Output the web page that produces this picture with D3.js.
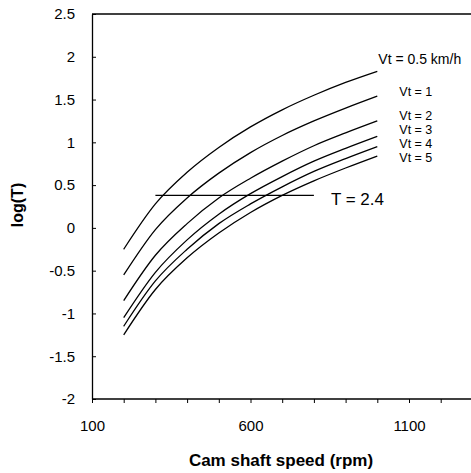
<!DOCTYPE html>
<html>
<head>
<meta charset="utf-8">
<script src="https://cdn.jsdelivr.net/npm/d3@7"></script>
<style>
    body { margin: 0; background: #fff; }
    text { font-family: "Liberation Sans", Arial, sans-serif; fill: #000; }
</style>
</head>
<body>
<div id="chart"></div>
<script>
(function () {
    'use strict';

    // rpm values the curves were read at
    var speeds = [200, 300, 400, 500, 600, 700, 800, 900, 1000];

    var seriesNames = ['Vt = 0.5 km/h', 'Vt = 1', 'Vt = 2', 'Vt = 3', 'Vt = 4', 'Vt = 5'];
    var vt05 = [-0.25, 0.28, 0.65, 0.94, 1.18, 1.38, 1.55, 1.70, 1.83];
    var vt1 = [-0.55, -0.02, 0.35, 0.64, 0.88, 1.08, 1.25, 1.40, 1.54];
    var vt2 = [-0.85, -0.32, 0.05, 0.35, 0.58, 0.78, 0.96, 1.11, 1.25];
    var vt3 = [-1.05, -0.52, -0.14, 0.16, 0.40, 0.60, 0.78, 0.93, 1.07];
    var vt4 = [-1.15, -0.62, -0.25, 0.05, 0.28, 0.48, 0.66, 0.81, 0.95];
    var vt5 = [-1.25, -0.72, -0.35, -0.06, 0.18, 0.38, 0.55, 0.70, 0.84];

    // horizontal reference line T = 2.4
    var refLabel = 'T = 2.4';
    var refValue = Math.log10(2.4);
    var refSpan = [300, 800];

    var xTicks = [100, 200, 300, 400, 500, 600, 700, 800, 900, 1000, 1100, 1200];
    var xTickLabels = [100, 600, 1100];
    var yTicks = [-2, -1.5, -1, -0.5, 0, 0.5, 1, 1.5, 2, 2.5];

    var width = 471, height = 473;
    var left = 92, top = 14, bottom = 399;

    var svg = d3.select('#chart').append('svg')
        .attr('width', width)
        .attr('height', height);

    var x = d3.scaleLinear().domain([100, 1100]).range([left, 409]);
    var y = d3.scaleLinear().domain([-2, 2.5]).range([bottom, top]);

    // frame (top edge, the right side is cut off)
    svg.append('line')
        .attr('x1', left).attr('x2', width)
        .attr('y1', top).attr('y2', top)
        .attr('stroke', '#000').attr('stroke-width', 1.3);

    var xAxis = d3.axisBottom(x)
        .tickValues(xTicks)
        .tickSize(4)
        .tickPadding(17)
        .tickFormat(function (d) { return xTickLabels.indexOf(d) >= 0 ? d : ''; });

    var gx = svg.append('g')
        .attr('transform', 'translate(0,' + bottom + ')')
        .call(xAxis);
    gx.select('.domain').remove();
    gx.append('line')
        .attr('x1', left).attr('x2', width)
        .attr('stroke', '#000').attr('stroke-width', 1.3);
    gx.selectAll('text').style('font-size', '15px');

    var yAxis = d3.axisLeft(y)
        .tickValues(yTicks)
        .tickSizeInner(-4)
        .tickSizeOuter(0)
        .tickPadding(17)
        .tickFormat(function (d) { return d; });

    var gy = svg.append('g')
        .attr('transform', 'translate(' + left + ',0)')
        .call(yAxis);
    gy.select('.domain').attr('stroke-width', 1.3);
    gy.selectAll('text').style('font-size', '15px');

    svg.append('text')
        .attr('x', 281).attr('y', 466)
        .attr('text-anchor', 'middle')
        .style('font-size', '17px').style('font-weight', 'bold')
        .text('Cam shaft speed (rpm)');

    svg.append('text')
        .attr('transform', 'translate(23,205) rotate(-90)')
        .attr('text-anchor', 'middle')
        .style('font-size', '16px').style('font-weight', 'bold')
        .text('log(T)');

    var series = [vt05, vt1, vt2, vt3, vt4, vt5];

    var line = d3.line()
        .x(function (d, i) { return x(speeds[i]); })
        .y(function (d) { return y(d); })
        .curve(d3.curveMonotoneX);

    svg.selectAll('.curve')
        .data(series)
        .enter()
        .append('path')
        .attr('class', 'curve')
        .attr('d', line)
        .attr('fill', 'none')
        .attr('stroke', '#000')
        .attr('stroke-width', 1.3);

    // label offsets beside the curve ends
    var labelPos = [
        { dx: 1, y: 59 },
        { dx: 22, y: 92 },
        { dx: 22, y: 116 },
        { dx: 22, y: 130 },
        { dx: 22, y: 144 },
        { dx: 22, y: 158 }
    ];

    svg.selectAll('.vt-label')
        .data(seriesNames)
        .enter()
        .append('text')
        .attr('class', 'vt-label')
        .attr('x', function (d, i) { return x(1000) + labelPos[i].dx; })
        .attr('y', function (d, i) { return labelPos[i].y; })
        .attr('dy', '0.35em')
        .style('font-size', function (d, i) { return i === 0 ? '14px' : '12.5px'; })
        .text(function (d) { return d; });

    svg.append('line')
        .attr('x1', x(refSpan[0])).attr('x2', x(refSpan[1]))
        .attr('y1', y(refValue)).attr('y2', y(refValue))
        .attr('stroke', '#000').attr('stroke-width', 1.3);

    svg.append('text')
        .attr('x', x(refSpan[1]) + 17)
        .attr('y', y(refValue) + 4)
        .attr('dy', '0.35em')
        .style('font-size', '17px')
        .text(refLabel);
})();
</script>
</body>
</html>
